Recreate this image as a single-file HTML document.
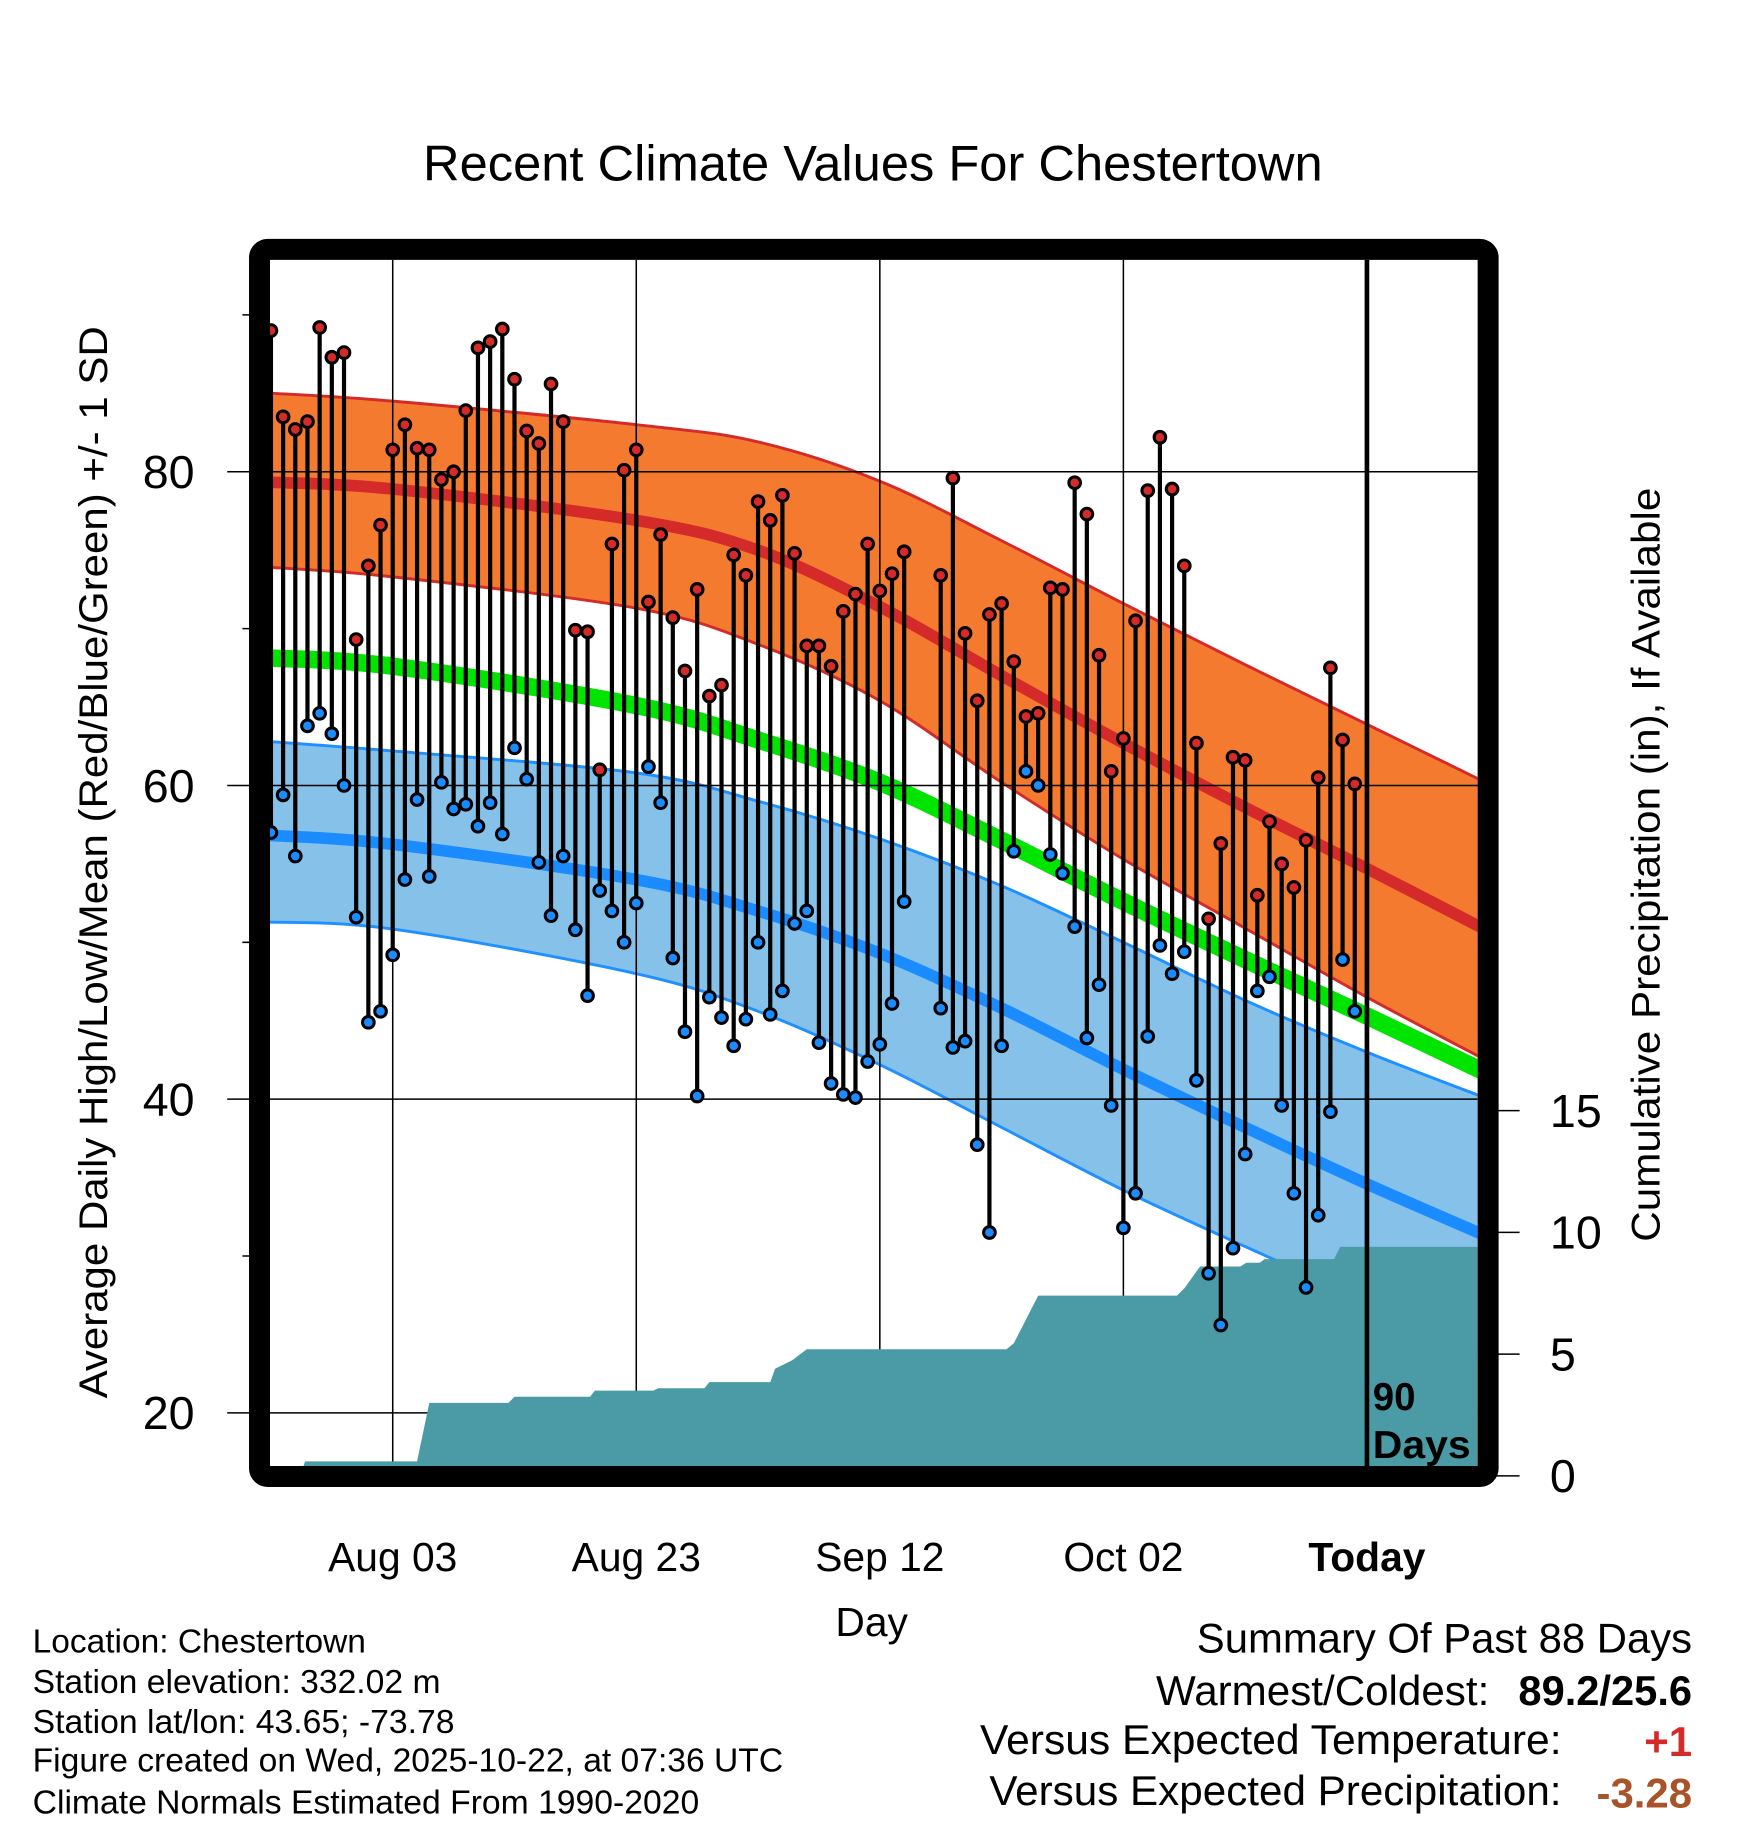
<!DOCTYPE html>
<html><head><meta charset="utf-8"><style>
html,body{margin:0;padding:0;background:#fff;}
svg{display:block;font-family:"Liberation Sans",Arial,sans-serif;}
</style></head><body>
<svg id="chart" width="1748" height="1828" viewBox="0 0 1500 1568.6" xmlns="http://www.w3.org/2000/svg">
<defs><clipPath id="plotclip"><rect x="231.7" y="223" width="1036.3" height="1035"/></clipPath></defs>
<text x="749" y="155" font-size="43" text-anchor="middle" textLength="772" lengthAdjust="spacingAndGlyphs">Recent Climate Values For Chestertown</text>
<g id="plot" clip-path="url(#plotclip)"></g>
<g id="overlay"></g>
<rect x="222.7" y="214" width="1054.3" height="1053" rx="7" fill="none" stroke="#000" stroke-width="18"/>
<text transform="translate(92,740) rotate(-90)" font-size="34" text-anchor="middle" textLength="920" lengthAdjust="spacingAndGlyphs">Average Daily High/Low/Mean (Red/Blue/Green) +/- 1 SD</text>
<text transform="translate(1424,742) rotate(-90)" font-size="34" text-anchor="middle" textLength="647" lengthAdjust="spacingAndGlyphs">Cumulative Precipitation (in), If Available</text>
<text x="748" y="1404" font-size="35" text-anchor="middle">Day</text>
<text x="1178" y="1210" font-size="33" font-weight="bold">90</text>
<text x="1178" y="1251" font-size="33" font-weight="bold" textLength="84" lengthAdjust="spacingAndGlyphs">Days</text>
<g font-size="28.5">
<text x="28" y="1418" textLength="286" lengthAdjust="spacingAndGlyphs">Location: Chestertown</text>
<text x="28" y="1453" textLength="350" lengthAdjust="spacingAndGlyphs">Station elevation: 332.02 m</text>
<text x="28" y="1487" textLength="362" lengthAdjust="spacingAndGlyphs">Station lat/lon: 43.65; -73.78</text>
<text x="28" y="1520" textLength="644" lengthAdjust="spacingAndGlyphs">Figure created on Wed, 2025-10-22, at 07:36 UTC</text>
<text x="28" y="1556" textLength="572" lengthAdjust="spacingAndGlyphs">Climate Normals Estimated From 1990-2020</text>
</g>
<g font-size="36">
<text x="1027" y="1418" textLength="425" lengthAdjust="spacingAndGlyphs">Summary Of Past 88 Days</text>
<text x="992" y="1463" textLength="286" lengthAdjust="spacingAndGlyphs">Warmest/Coldest:</text>
<text x="1303" y="1463" font-weight="bold" textLength="149" lengthAdjust="spacingAndGlyphs">89.2/25.6</text>
<text x="841" y="1505" textLength="499" lengthAdjust="spacingAndGlyphs">Versus Expected Temperature:</text>
<text x="1452" y="1507" text-anchor="end" font-weight="bold" fill="#d42a2a">+1</text>
<text x="849" y="1549" textLength="491" lengthAdjust="spacingAndGlyphs">Versus Expected Precipitation:</text>
<text x="1370" y="1551" font-weight="bold" fill="#a8542a" textLength="82" lengthAdjust="spacingAndGlyphs">-3.28</text>
</g>
</svg>
<script>
// ---- data ----
const obsDays = [];
for (let d=-90; d<=-1; d++) obsDays.push(d);
const highs = [89.0,83.5,82.7,83.2,89.2,87.3,87.6,69.3,74.0,76.6,81.4,83.0,81.5,81.4,79.5,80.0,83.9,87.9,88.3,89.1,85.9,82.6,81.8,85.6,83.2,69.9,69.8,61.0,75.4,80.1,81.4,71.7,76.0,70.7,67.3,72.5,65.7,66.4,74.7,73.4,78.1,76.9,78.5,74.8,68.9,68.9,67.6,71.1,72.2,75.4,72.4,73.5,74.9,null,null,73.4,79.6,69.7,65.4,70.9,71.6,67.9,64.4,64.6,72.6,72.5,79.3,77.3,68.3,60.9,63.0,70.5,78.8,82.2,78.9,74.0,62.7,51.5,56.3,61.8,61.6,53.0,57.7,55.0,53.5,56.5,60.5,67.5,62.9,60.1];
const lows = [57.0,59.4,55.5,63.8,64.6,63.3,60.0,51.6,44.9,45.6,49.2,54.0,59.1,54.2,60.2,58.5,58.8,57.4,58.9,56.9,62.4,60.4,55.1,51.7,55.5,50.8,46.6,53.3,52.0,50.0,52.5,61.2,58.9,49.0,44.3,40.2,46.5,45.2,43.4,45.1,50.0,45.4,46.9,51.2,52.0,43.6,41.0,40.3,40.1,42.4,43.5,46.1,52.6,null,null,45.8,43.3,43.7,37.1,31.5,43.4,55.8,60.9,60.0,55.6,54.4,51.0,43.9,47.3,39.6,31.8,34.0,44.0,49.8,48.0,49.4,41.2,28.9,25.6,30.5,36.5,46.9,47.8,39.6,34.0,28.0,32.6,39.2,48.9,45.6];
const normDays = [-91,-80,-60,-50,-40,-30,-20,-10,0,10];
const highUpper = [85.05,84.5,83.0,81.9,79.4,75.6,71.6,67.7,63.9,60.1];
const highMean = [79.35,78.9,76.9,75.0,71.4,67.0,62.7,58.6,54.7,50.7];
const highLower = [73.95,73.3,71.3,69.0,65.4,60.2,55.3,50.9,46.5,42.4];
const avgMean = [68.15,67.6,65.1,62.9,60.2,56.5,52.6,48.9,45.3,41.6];
const lowUpper = [62.85,62.2,60.8,59.0,56.6,53.6,50.0,46.3,43.0,40.0];
const lowMean = [56.85,56.25,54.0,52.0,49.3,45.8,41.9,38.2,34.6,31.2];
const lowLower = [51.3,50.85,48.0,45.6,42.2,38.2,34.2,30.6,27.2,24.0];
const precipDays = [-91,-87.6,-87.2,-78.0,-77.0,-70.5,-70,-63.8,-63.4,-58.6,-58.2,-54.4,-54,-49,-48.6,-47.2,-46,-29.6,-29,-27,-15.6,-15,-13.7,-10.4,-9.9,-8.8,-8.4,-2.7,-2.2,10];
const precipCum = [0,0,0.6,0.6,3.0,3.0,3.25,3.25,3.5,3.5,3.6,3.6,3.85,3.85,4.4,4.75,5.2,5.2,5.45,7.4,7.4,7.7,8.6,8.6,8.75,8.75,8.9,8.9,9.4,9.4];
const yTicks = [20,40,60,80];
const yMinor = [30,50,70,90];
const y2Ticks = [0,5,10,15];
const xTickDays = [-80,-60,-40,-20,0];
const xTickLabels = ["Aug 03","Aug 23","Sep 12","Oct 02","Today"];

// ---- axes ----
const X = d => 1173 + d*10.45;
const Y = t => 404.8 + (80 - t)*13.46;
const Y2 = p => 1266.5 - p*20.9;
const NS = "http://www.w3.org/2000/svg";
const plot = document.getElementById('plot');
function mk(tag, attrs, parent){ const e=document.createElementNS(NS,tag); for(const k in attrs) e.setAttribute(k,attrs[k]); (parent||plot).appendChild(e); return e; }
function linePts(days, vals, fy){ return days.map((d,i)=>X(d).toFixed(1)+','+fy(vals[i]).toFixed(1)); }
function smooth(vals, rev){
  let p = normDays.map((d,i)=>[X(d), Y(vals[i])]);
  if(rev) p = p.slice().reverse();
  let s = '';
  for(let i=0;i<p.length-1;i++){
    const p0=p[Math.max(i-1,0)], p1=p[i], p2=p[i+1], p3=p[Math.min(i+2,p.length-1)];
    const c1=[p1[0]+(p2[0]-p0[0])/6, p1[1]+(p2[1]-p0[1])/6];
    const c2=[p2[0]-(p3[0]-p1[0])/6, p2[1]-(p3[1]-p1[1])/6];
    if(i===0) s += (rev?'L':'M')+p1[0].toFixed(1)+','+p1[1].toFixed(1);
    s += 'C'+c1[0].toFixed(1)+','+c1[1].toFixed(1)+' '+c2[0].toFixed(1)+','+c2[1].toFixed(1)+' '+p2[0].toFixed(1)+','+p2[1].toFixed(1);
  }
  return s;
}
function band(up, lo, fill, edge, name){
  const p = mk('path',{d:smooth(up,false)+smooth(lo,true)+'Z',fill:fill});
  
  
  const a = mk('path',{d:smooth(up,false),fill:'none',stroke:edge,'stroke-width':2.5});
  
  
  const b = mk('path',{d:smooth(lo,false),fill:'none',stroke:edge,'stroke-width':2.5});
  
  
}
band(highUpper, highLower, '#f47a30', '#d42a2a', 'high-sd-band');
band(lowUpper, lowLower, '#85c1e9', '#1e90ff', 'low-sd-band');
function line(vals, color, w, name){
  const l = mk('path',{d:smooth(vals,false),fill:'none',stroke:color,'stroke-width':w});
  
  
}
line(avgMean,'#00e400',15,'mean-normal-line');
line(highMean,'#d42a2a',10,'high-normal-line');
line(lowMean,'#1a8cff',10,'low-normal-line');
// gridlines
yTicks.forEach(t=>{
  const g = mk('line',{x1:231,x2:1270,y1:Y(t),y2:Y(t),stroke:'#000','stroke-width':1.3});
  
  
});
xTickDays.forEach(d=>{
  const g = mk('line',{x1:X(d),x2:X(d),y1:180,y2:1300,stroke:'#000','stroke-width':1.3});
  
  
});
// precip
{
  const pts = linePts(precipDays, precipCum, Y2);
  pts.push(X(10).toFixed(1)+','+Y2(0)); pts.push(X(-91).toFixed(1)+','+Y2(0));
  const p = mk('polygon',{points:pts.join(' '),fill:'#4a9ba5'});
  
  
}
// today line
{
  const t = mk('line',{x1:X(0),x2:X(0),y1:215,y2:1265,stroke:'#000','stroke-width':4});
  
  
}
// stems & dots
obsDays.forEach((d,i)=>{
  if(highs[i]==null) return;
  const s = mk('line',{x1:X(d),x2:X(d),y1:Y(highs[i]),y2:Y(lows[i]),stroke:'#000','stroke-width':3.6});
  
  
});
obsDays.forEach((d,i)=>{
  if(highs[i]==null) return;
  const h = mk('circle',{cx:X(d),cy:Y(highs[i]),r:5,fill:'#d42a2a',stroke:'#000','stroke-width':2.6});
  
  
  const l = mk('circle',{cx:X(d),cy:Y(lows[i]),r:5,fill:'#1a8cff',stroke:'#000','stroke-width':2.6});
  
  
});
// ticks & labels
const ov = document.getElementById('overlay');
yTicks.forEach(t=>{
  const k = mk('line',{x1:195,x2:222,y1:Y(t),y2:Y(t),stroke:'#000','stroke-width':1.3},ov);
  
  
  const tx = mk('text',{x:167,y:Y(t)+14,'font-size':40,'text-anchor':'end'},ov);
  tx.textContent = t;
  
  
});
yMinor.forEach(t=>{
  const k = mk('line',{x1:208,x2:222,y1:Y(t),y2:Y(t),stroke:'#000','stroke-width':1.3},ov);
  
  
});
y2Ticks.forEach(p=>{
  const k = mk('line',{x1:1280,x2:1304,y1:Y2(p),y2:Y2(p),stroke:'#000','stroke-width':1.3},ov);
  
  
  const tx = mk('text',{x:1330,y:Y2(p)+14,'font-size':40},ov);
  tx.textContent = p;
  
  
});
xTickDays.forEach((d,i)=>{
  const tx = mk('text',{x:X(d),y:1348,'font-size':35,'text-anchor':'middle'},ov);
  if(xTickLabels[i]==='Today') tx.setAttribute('font-weight','bold');
  tx.textContent = xTickLabels[i];
  
  
});
</script>
</body></html>
